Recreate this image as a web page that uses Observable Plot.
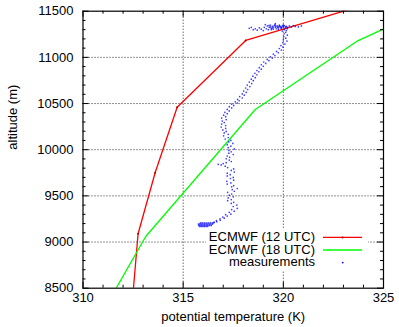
<!DOCTYPE html>
<html>
<head>
<meta charset="utf-8">
<script src="https://cdn.jsdelivr.net/npm/d3@7"></script>
<script src="https://cdn.jsdelivr.net/npm/@observablehq/plot@0.6"></script>
<style>
  html, body { margin: 0; padding: 0; background: #fff; }
  svg { display: block; }
</style>
</head>
<body>
<div id="chart"></div>
<script>
// ---- data ----
const xTicks = [310, 315, 320, 325];
const yTicks = [8500, 9000, 9500, 10000, 10500, 11000, 11500];
const xMinorTicks = [311, 312, 313, 314, 316, 317, 318, 319, 321, 322, 323, 324];
const yMinorTicks = [8600, 8700, 8800, 8900, 9100, 9200, 9300, 9400, 9600, 9700, 9800, 9900,
  10100, 10200, 10300, 10400, 10600, 10700, 10800, 10900, 11100, 11200, 11300, 11400];

const seriesNames = ["ECMWF (12 UTC)", "ECMWF (18 UTC)", "measurements"];
const seriesColors = ["#ff0000", "#00ff00", "#0000ff"];

// ECMWF 12 UTC: [potential temperature K, altitude m]
const ecmwf12 = [[312.44, 8300], [312.75, 9090], [313.6, 9750], [314.7, 10460], [318.12, 11183], [324.54, 11600]];
// ECMWF 18 UTC
const ecmwf18 = [[311.13, 8300], [313.13, 9060], [318.6, 10435], [323.68, 11175], [325.93, 11400]];

const measurements = [
  // dense blob near 9180 m
  [315.82,9168],[315.9,9168],[315.98,9168],[316.06,9168],[316.14,9168],[316.22,9168],
  [315.78,9180],[315.85,9180],[315.92,9180],[316.0,9180],[316.08,9180],[316.16,9180],[316.24,9180],[316.32,9180],[316.4,9180],
  [315.76,9194],[315.83,9194],[315.9,9194],[315.98,9194],[316.06,9194],[316.14,9194],[316.22,9194],[316.3,9194],[316.38,9194],[316.46,9194],
  [315.86,9207],[315.95,9207],[316.05,9207],[316.15,9207],[316.25,9207],[316.35,9207],[316.45,9207],[316.52,9207],
  // ascent
  [316.55,9215],[316.68,9220],[316.66,9232],[316.85,9236],[316.84,9250],[317.05,9258],[316.98,9270],[317.2,9281],
  [317.12,9296],[317.38,9302],[317.3,9322],[317.55,9334],[317.42,9352],[317.7,9364],[317.5,9385],[317.68,9400],
  [317.4,9418],[317.52,9430],[317.22,9448],[317.4,9460],[317.25,9478],[317.5,9490],[317.3,9508],[317.42,9520],
  [317.22,9538],[317.55,9550],[317.45,9568],[317.7,9580],[317.42,9598],[317.52,9610],[317.2,9628],[317.38,9640],
  [317.18,9658],[317.52,9670],[317.36,9688],[317.5,9700],[317.2,9716],[317.35,9730],[317.2,9746],[317.55,9758],
  [317.4,9776],[317.52,9792],[317.22,9806],[317.1,9822],[316.9,9835],[316.75,9842],[317.0,9850],[317.15,9860],
  [317.4,9872],[317.3,9888],[317.15,9902],[317.32,9918],[317.2,9932],[317.5,9948],[317.28,9962],[317.4,9978],
  [317.28,9992],[317.55,10008],[317.25,10022],[317.38,10038],[317.2,10054],[317.48,10068],[317.28,10084],[317.38,10100],
  [317.1,10116],[317.25,10132],[317.02,10150],[317.25,10166],[317.05,10182],[317.15,10198],[316.98,10214],[317.12,10230],
  [316.9,10246],[317.12,10262],[316.92,10278],[317.05,10294],[316.95,10310],[317.15,10326],[316.92,10342],[317.12,10358],
  [317.02,10374],[317.2,10390],[317.08,10405],[317.3,10420],[317.2,10436],[317.42,10452],[317.3,10466],[317.52,10480],
  [317.42,10494],[317.7,10506],[317.6,10518],[317.8,10530],[317.72,10545],[317.95,10560],[317.82,10575],[318.05,10590],
  [317.95,10604],[318.15,10620],[318.02,10636],[318.22,10652],[318.12,10668],[318.33,10684],[318.2,10700],[318.42,10716],
  [318.3,10732],[318.5,10748],[318.4,10764],[318.6,10780],[318.48,10796],[318.68,10812],[318.58,10828],[318.78,10844],
  [318.68,10858],[318.9,10872],[318.8,10888],[319.0,10904],[318.9,10920],[319.12,10934],[319.02,10950],[319.28,10964],
  [319.2,10978],[319.45,10992],[319.35,11006],[319.58,11020],[319.5,11036],[319.75,11050],[319.66,11064],[319.9,11080],
  [319.8,11096],[319.98,11112],[319.88,11128],[320.08,11144],[319.98,11160],[320.18,11176],[320.0,11192],[320.12,11208],
  [320.02,11224],[320.2,11240],[320.05,11256],[320.12,11272],[319.95,11285],
  // cluster near 11330 m
  [318.3,11315],[318.4,11325],[318.5,11300],[318.6,11310],[318.7,11295],[318.8,11320],[318.9,11305],[319.0,11290],
  [319.05,11325],[319.1,11355],[319.15,11310],[319.2,11340],[319.25,11300],[319.28,11345],[319.3,11325],[319.35,11350],
  [319.35,11330],[319.4,11315],[319.4,11300],[319.45,11335],[319.45,11318],[319.5,11305],[319.5,11328],[319.55,11345],
  [319.58,11352],[319.6,11325],[319.6,11365],[319.62,11338],[319.65,11310],[319.7,11340],[319.7,11328],[319.75,11320],
  [319.75,11305],[319.78,11333],[319.8,11350],[319.82,11340],[319.85,11330],[319.88,11322],[319.9,11312],[319.92,11328],
  [319.95,11340],[320.0,11325],[320.0,11352],[320.02,11335],[320.05,11345],[320.05,11300],[320.1,11318],[320.12,11330],
  [320.15,11335],[320.15,11290],[320.2,11325],[320.2,11310],[320.3,11340],[320.4,11330],[320.5,11345],[320.6,11335],
  [320.75,11330],[320.9,11340]
];

// ---- layout ----
const W = 399, H = 327;
const mL = 82.5, mR = 16, mT = 10.7, mB = 39.3;
const fh = H - mT - mB, fw = W - mL - mR;
const majorLen = 6, minorLen = 3;

const plot = Plot.plot({
  width: W, height: H,
  marginLeft: mL, marginRight: mR, marginTop: mT, marginBottom: mB,
  style: {fontFamily: "'Liberation Sans', Arial, Helvetica, sans-serif", fontSize: "13px", background: "#fff", color: "#000"},
  x: {domain: [310, 325], axis: null},
  y: {domain: [8500, 11500], axis: null},
  marks: [
    // grid
    Plot.ruleX(xTicks.slice(1, -1), {stroke: "#000", strokeWidth: 1, strokeOpacity: 0.85, strokeDasharray: "1,2"}),
    Plot.ruleY(yTicks.slice(1, -1), {stroke: "#000", strokeWidth: 1, strokeOpacity: 0.85, strokeDasharray: "1,2"}),
    // series
    Plot.line(ecmwf12, {x: d => d[0], y: d => d[1], stroke: seriesColors[0], strokeWidth: 1.3, clip: true}),
    Plot.dot(ecmwf12, {x: d => d[0], y: d => d[1], r: 1, fill: "#b00000", stroke: "none", clip: true}),
    Plot.line(ecmwf18, {x: d => d[0], y: d => d[1], stroke: seriesColors[1], strokeWidth: 1.3, clip: true}),
    Plot.dot(measurements, {x: d => d[0], y: d => d[1], r: 0.85, fill: seriesColors[2], fillOpacity: 0.75, stroke: "none", clip: true}),
    // ticks (inward, all four sides)
    Plot.tickX(xTicks, {x: d => d, insetTop: fh - majorLen, stroke: "#000"}),
    Plot.tickX(xTicks, {x: d => d, insetBottom: fh - majorLen, stroke: "#000"}),
    Plot.tickX(xMinorTicks, {x: d => d, insetTop: fh - minorLen, stroke: "#000"}),
    Plot.tickX(xMinorTicks, {x: d => d, insetBottom: fh - minorLen, stroke: "#000"}),
    Plot.tickY(yTicks, {y: d => d, insetRight: fw - majorLen, stroke: "#000"}),
    Plot.tickY(yTicks, {y: d => d, insetLeft: fw - majorLen, stroke: "#000"}),
    Plot.tickY(yMinorTicks, {y: d => d, insetRight: fw - minorLen, stroke: "#000"}),
    Plot.tickY(yMinorTicks, {y: d => d, insetLeft: fw - minorLen, stroke: "#000"}),
    Plot.frame({stroke: "#000", strokeWidth: 1.2}),
    // tick labels
    Plot.text(xTicks, {x: d => d, frameAnchor: "bottom", dy: 14, text: d => String(d), fontSize: 13}),
    Plot.text(yTicks, {y: d => d, frameAnchor: "left", dx: -9.5, textAnchor: "end", text: d => String(d), fontSize: 13}),
    // axis labels
    Plot.text(["potential temperature (K)"], {frameAnchor: "bottom", dy: 32.5, fontSize: 13}),
    Plot.text(["altitude (m)"], {frameAnchor: "left", dx: -70, rotate: -90, fontSize: 13})
  ]
});

// ---- legend (inside plot, opaque box) ----
const svg = d3.select(plot);
const lg = svg.append("g").attr("font-family", "'Liberation Sans', Arial, Helvetica, sans-serif").attr("font-size", 13);
lg.append("rect").attr("x", 206).attr("y", 229).attr("width", 162).attr("height", 42).attr("fill", "#fff");
const baselines = [241.2, 253.8, 266.4];
seriesNames.forEach((name, i) => {
  lg.append("text").attr("x", 315).attr("y", baselines[i]).attr("text-anchor", "end").attr("fill", "#000").text(name);
  const cy = baselines[i] - 3.8;
  if (i < 2) {
    lg.append("line").attr("x1", 323).attr("x2", 362).attr("y1", cy).attr("y2", cy)
      .attr("stroke", seriesColors[i]).attr("stroke-width", 1.3);
    if (i === 0) lg.append("circle").attr("cx", 342.5).attr("cy", cy).attr("r", 1).attr("fill", "#b00000");
  } else {
    lg.append("circle").attr("cx", 342.7).attr("cy", cy).attr("r", 0.9).attr("fill", seriesColors[2]);
  }
});

document.getElementById("chart").appendChild(plot);
</script>
</body>
</html>
